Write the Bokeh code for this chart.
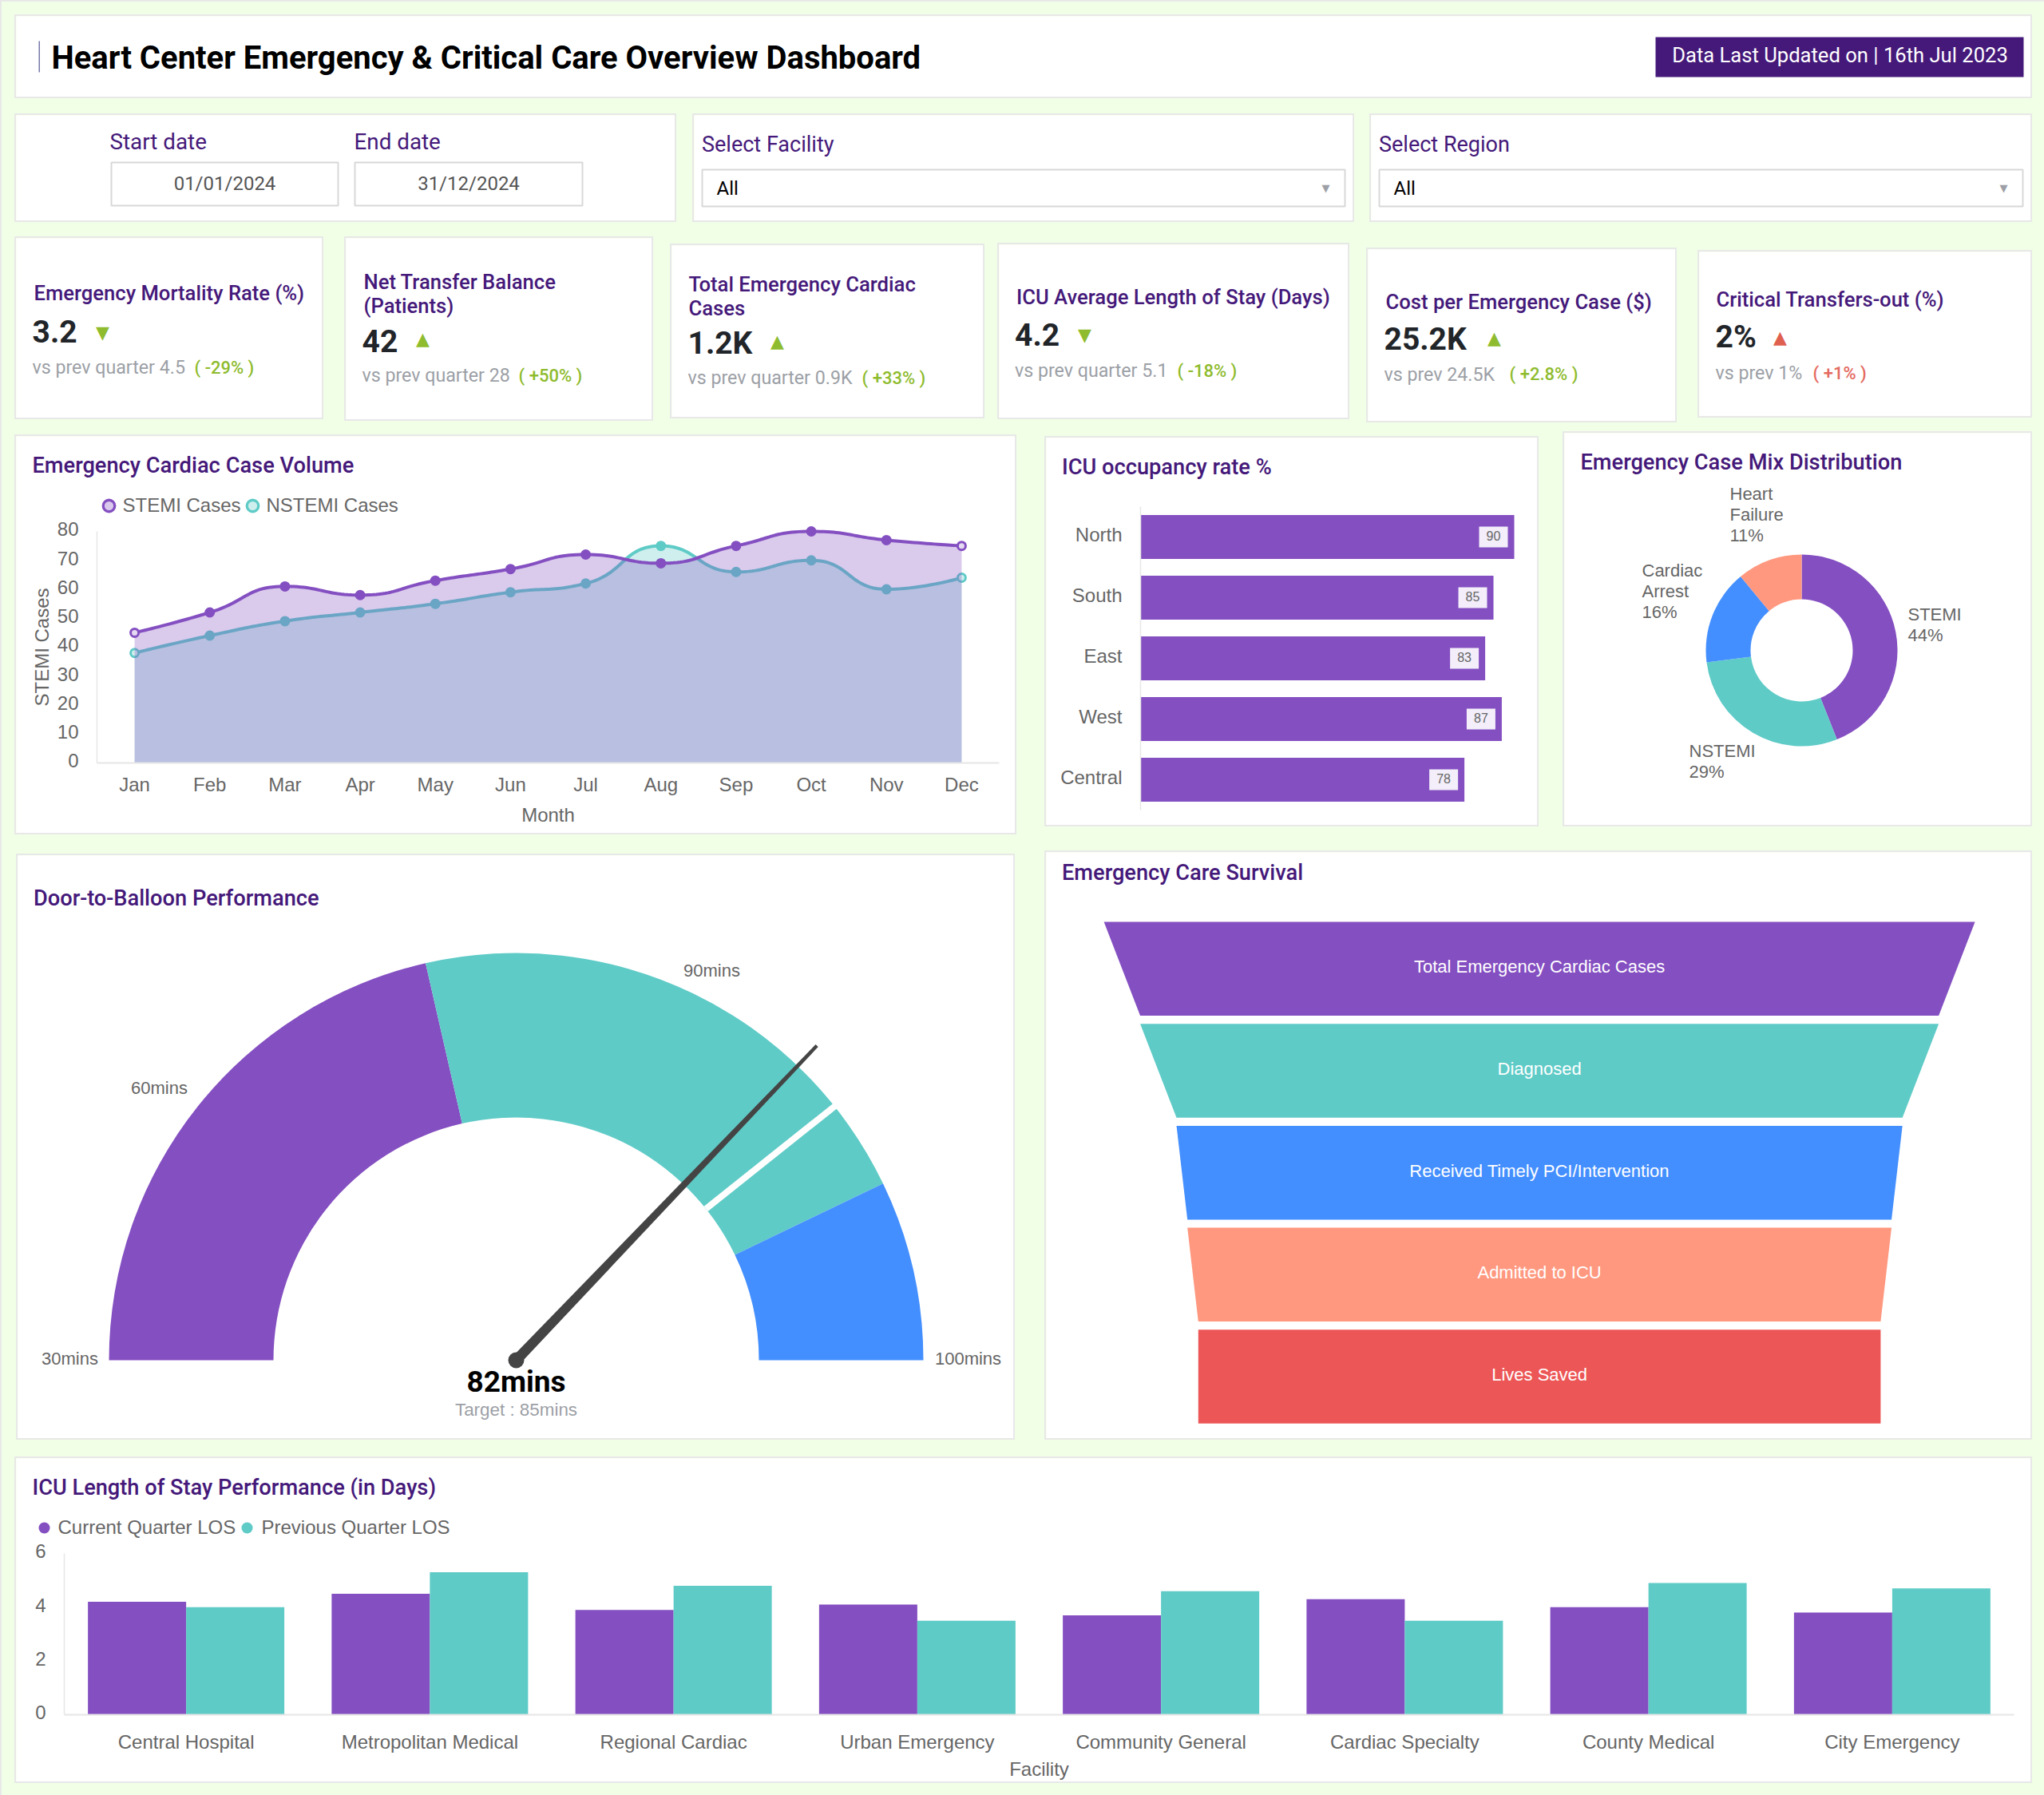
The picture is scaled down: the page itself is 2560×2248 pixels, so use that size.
import math
from bokeh.core.properties import value
from bokeh.embed import file_html
from bokeh.resources import INLINE
from bokeh.plotting import figure
from bokeh.models import (Label, BoxAnnotation, Row, Column, Range1d, FixedTicker, LinearAxis,
                          GlobalInlineStyleSheet)

# ---------- data ----------
months = ["Jan", "Feb", "Mar", "Apr", "May", "Jun", "Jul", "Aug", "Sep", "Oct", "Nov", "Dec"]
stemi = [45, 52, 61, 58, 63, 67, 72, 69, 75, 80, 77, 75]
nstemi = [38, 44, 49, 52, 55, 59, 62, 75, 66, 70, 60, 64]
regions = ["North", "South", "East", "West", "Central"]
occupancy = [90, 85, 83, 87, 78]
mix_names = [["STEMI"], ["NSTEMI"], ["Cardiac", "Arrest"], ["Heart", "Failure"]]
mix_values = [44, 29, 16, 11]
gauge_min, gauge_max = 30, 100
gauge_stops = [60, 90, 100]
gauge_value = 82
gauge_target = 85
funnel_names = ["Total Emergency Cardiac Cases", "Diagnosed", "Received Timely PCI/Intervention",
                "Admitted to ICU", "Lives Saved"]
funnel_values = [1200, 1100, 1000, 970, 940]
facilities = ["Central Hospital", "Metropolitan Medical", "Regional Cardiac", "Urban Emergency",
              "Community General", "Cardiac Specialty", "County Medical", "City Emergency"]
los_current = [4.2, 4.5, 3.9, 4.1, 3.7, 4.3, 4.0, 3.8]
los_previous = [4.0, 5.3, 4.8, 3.5, 4.6, 3.5, 4.9, 4.7]

# ---------- style ----------
PURPLE, TEAL, BLUE, SALMON, RED = "#844FC1", "#5FCBC7", "#448FFF", "#FF987F", "#EC5656"
INK = "#45197A"
GREY = "#666666"
MUTED = "#9CA0A6"
GREEN = "#8FBC2F"
ALERT = "#E0604F"
AXIS = "#E6E6E6"
ROBOTO = "Roboto"
MEDIUM = "Roboto Medium"
ARIAL = "Liberation Sans"
BW = 2


class Card:
    """A white panel whose frame fills it; one data unit maps through the given ranges."""

    def __init__(self, x0, y0, x1, y1):
        self.x0, self.y0, self.x1, self.y1 = x0 + BW, y0 + BW, x1 - BW, y1 - BW
        self.fig = figure(
            width=self.x1 - self.x0, height=self.y1 - self.y0,
            x_range=Range1d(self.x0, self.x1), y_range=Range1d(self.y1, self.y0),
            toolbar_location=None, output_backend="svg",
            x_axis_location=None, y_axis_location=None,
            min_border_left=0, min_border_right=0, min_border_top=0, min_border_bottom=0,
            frame_align=False,
            background_fill_color="white", border_fill_color="white", outline_line_color=None,
            styles={"box-shadow": f"0 0 0 {BW}px #E8E8E8"})
        self.fig.grid.visible = False

    def ranges(self, to_x, to_y):
        self.fig.x_range = Range1d(to_x(self.x0), to_x(self.x1))
        self.fig.y_range = Range1d(to_y(self.y1), to_y(self.y0))

    def text(self, x, y, s, size, color, font=ARIAL, bold=False, align="left", angle=0):
        self.fig.add_layout(Label(
            x=x - self.x0, y=self.y1 - y, x_units="screen", y_units="screen", text=s,
            text_font=font, text_font_size=f"{size}px", text_color=color,
            text_font_style="bold" if bold else "normal",
            text_align=align, text_baseline="middle", angle=angle, angle_units="deg"))

    def box(self, x0, y0, x1, y1, fill="white", line=None, lw=1):
        self.fig.add_layout(BoxAnnotation(
            left=x0 - self.x0, right=x1 - self.x0, top=self.y1 - y0, bottom=self.y1 - y1,
            left_units="screen", right_units="screen", top_units="screen", bottom_units="screen",
            fill_color=fill, fill_alpha=1, line_color=line, line_alpha=1, line_width=lw))

    def title(self, x, y, s, size=27.2):
        self.text(x, y, s, size, INK, font=MEDIUM)

    def axis(self, place, at, bounds, ticks, labels=None, standoff=20, width=1.5, shift=0):
        # shift nudges only the label placement along the axis; tick marks are not drawn
        labels = labels if labels is not None else [str(t) for t in ticks]
        moved = [round(t + shift, 4) for t in ticks]
        ax = LinearAxis(fixed_location=at, bounds=bounds, ticker=FixedTicker(ticks=moved))
        ax.axis_line_color = AXIS
        ax.axis_line_width = width
        ax.major_tick_line_color = None
        ax.minor_tick_line_color = None
        ax.major_label_text_font = ARIAL
        ax.major_label_text_font_size = "24px"
        ax.major_label_text_color = GREY
        ax.major_label_standoff = standoff
        ax.major_label_overrides = dict(zip(moved, labels))
        self.fig.add_layout(ax, place)


# ---------- header ----------
header = Card(18, 18, 2545, 123)
header.box(48, 51, 49.5, 90, fill="#7777AA")
header.text(64, 72, "Heart Center Emergency & Critical Care Overview Dashboard", 40, "#000000", font=ROBOTO, bold=True)
header.box(2073, 46, 2534, 96, fill=INK)
header.text(2304, 68, "Data Last Updated on | 16th Jul 2023", 25.6, "#FFFFFF", font=ROBOTO, align="center")

# ---------- filters ----------
dates = Card(18, 142, 847, 278)
for lx, bx0, bx1, lab, val in [(137, 139, 423, "Start date", "01/01/2024"), (443, 444, 729, "End date", "31/12/2024")]:
    dates.text(lx, 177, lab, 27.8, INK, font=ROBOTO)
    dates.box(bx0, 203, bx1, 257, line="#D8D8D8", lw=2)
    dates.text((bx0 + bx1) / 2, 229, val, 24, "#555555", font=ROBOTO, align="center")

selects = []
for x0, x1, lab in [(867, 1696, "Select Facility"), (1715, 2545, "Select Region")]:
    c = Card(x0, 142, x1, 278)
    c.text(x0 + 11.5, 180, lab, 27, INK, font=ROBOTO)
    c.box(x0 + 12, 212, x1 - 12, 258, line="#D8D8D8", lw=2)
    c.text(x0 + 30, 235, "All", 24, "#000000", font=ROBOTO)
    c.text(x1 - 36, 235, "\u25BC", 13, "#9CA0A6", font="DejaVu Sans", align="center")
    selects.append(c)

# ---------- KPI cards ----------
kpi_specs = [
    ((18, 296, 405, 525), ["Emergency Mortality Rate (%)"], [366.5], 42, "3.2", 40, 414, "\u25BC", 128, 416, GREEN,
     "vs prev quarter 4.5", 459.5, "( -29% )", 243),
    ((431, 296, 818, 527), ["Net Transfer Balance", "(Patients)"], [352, 382.5], 455, "42", 453, 426, "\u25B2", 529, 424, GREEN,
     "vs prev quarter 28", 469.5, "( +50% )", 649),
    ((839, 305, 1233, 524), ["Total Emergency Cardiac", "Cases"], [355, 385.5], 862, "1.2K", 861, 429, "\u25B2", 973, 427, GREEN,
     "vs prev quarter 0.9K", 472.5, "( +33% )", 1079),
    ((1249, 304, 1690, 525), ["ICU Average Length of Stay (Days)"], [371], 1272.5, "4.2", 1270.5, 418, "\u25BC", 1358, 419, GREEN,
     "vs prev quarter 5.1", 463.5, "( -18% )", 1474),
    ((1711, 310, 2100, 529), ["Cost per Emergency Case ($)"], [377], 1735, "25.2K", 1733, 424, "\u25B2", 1871, 423, GREEN,
     "vs prev 24.5K", 468, "( +2.8% )", 1890),
    ((2126, 313, 2545, 523), ["Critical Transfers-out (%)"], [374], 2149, "2%", 2148, 421, "\u25B2", 2229, 422, ALERT,
     "vs prev 1%", 466.5, "( +1% )", 2270),
]
kpis = []
for rect, tl, tys, tx, val, vx, vy, tri, trx, try_, col, sub, sy, delta, dx in kpi_specs:
    c = Card(*rect)
    for line, ty in zip(tl, tys):
        c.text(tx, ty, line, 25.6, INK, font=MEDIUM)
    c.text(vx, vy, val, 39, "#212529", font=ROBOTO, bold=True)
    c.text(trx, try_, tri, 22, col, font="DejaVu Sans", align="center")
    c.text(vx, sy, sub, 23.2, MUTED, font=ROBOTO)
    c.text(dx, sy, delta, 22, col if col != ALERT else "#E46A60", font=MEDIUM)
    kpis.append(c)


# ---------- line chart ----------
def smooth(values, sx, sy, samples=24, k=0.5):
    pts = [(i * sx, v * sy) for i, v in enumerate(values)]
    n = len(pts)
    cps = []
    for i in range(n):
        x, y = pts[i]
        if i == 0 or i == n - 1:
            cps.append(((x, y), (x, y)))
            continue
        px, py = pts[i - 1]
        nx, ny = pts[i + 1]
        vx, vy = nx - px, ny - py
        lp, ln = math.hypot(x - px, y - py), math.hypot(nx - x, ny - y)
        r = ln / (ln + lp)
        cx = min(max(x + vx * k * r, min(nx, x)), max(nx, x))
        cy = min(max(y + vy * k * r, min(ny, y)), max(ny, y))
        dx, dy = cx - x, cy - y
        bx = min(max(x - dx * lp / ln, min(px, x)), max(px, x))
        by = min(max(y - dy * lp / ln, min(py, y)), max(py, y))
        dx, dy = x - bx, y - by
        cps.append(((bx, by), (x + dx * ln / lp, y + dy * ln / lp)))
    xs, ys = [], []
    for i in range(n - 1):
        p0, p3 = pts[i], pts[i + 1]
        p1, p2 = cps[i][1], cps[i + 1][0]
        for j in range(samples + (i == n - 2)):
            t = j / samples
            u = 1 - t
            xs.append((u**3 * p0[0] + 3 * u * u * t * p1[0] + 3 * u * t * t * p2[0] + t**3 * p3[0]) / sx)
            ys.append((u**3 * p0[1] + 3 * u * u * t * p1[1] + 3 * u * t * t * p2[1] + t**3 * p3[1]) / sy)
    return xs, ys


LX0, LY80, LX1, LY0 = 121, 665, 1251, 955
ly_unit = (LY0 - LY80) / 80
lx_unit = (LX1 - LX0) / 12
to_lx = lambda px: (px - LX0) / lx_unit - 0.5
to_ly = lambda py: (LY0 - py) / ly_unit
line_card = Card(18, 544, 1273, 1045)
line_card.ranges(to_lx, to_ly)
lf = line_card.fig
line_card.axis("left", -0.5, (0, 80), list(range(0, 81, 10)), standoff=17, shift=2.5 / ly_unit)
line_card.axis("below", 0, (-0.5, 11.5), list(range(12)), months, standoff=7, width=2)
idx = list(range(12))


def series(values, color, light):
    xs, ys = smooth(values, lx_unit, ly_unit)
    lf.varea(x=xs, y1=[0] * len(xs), y2=ys, fill_color=color, fill_alpha=0.3)
    lf.line(xs, ys, line_color=color, line_width=4, line_join="round")
    fills = [light if i in (0, 11) else color for i in idx]
    lf.scatter(idx, values, size=10, marker="circle", fill_color=fills, line_color=color, line_width=3)


series(nstemi, TEAL, "#CFEFEE")
series(stemi, PURPLE, "#E6DAF2")
lf.scatter([to_lx(136)], [to_ly(633)], size=14.5, marker="circle", fill_color="#DAC9EC", line_color=PURPLE, line_width=3.3)
lf.scatter([to_lx(316)], [to_ly(633)], size=14.5, marker="circle", fill_color="#CFEFEE", line_color=TEAL, line_width=3.3)
line_card.title(40, 582, "Emergency Cardiac Case Volume")
line_card.text(153, 632, "STEMI Cases", 24, GREY)
line_card.text(333, 632, "NSTEMI Cases", 24, GREY)
line_card.text(686, 1020, "Month", 24, GREY, align="center")
line_card.text(52, 810, "STEMI Cases", 24, GREY, align="center", angle=90)

# ---------- ICU occupancy ----------
BX0, BY0, B_STEP = 1428, 634, 76
bx_unit = 5.2
to_bx = lambda px: (px - BX0) / bx_unit
to_by = lambda py: (py - BY0) / B_STEP - 0.5
icu_card = Card(1308, 546, 1927, 1035)
icu_card.ranges(to_bx, to_by)
bf = icu_card.fig
icu_card.axis("left", 0, (-0.5, 4.5), list(range(5)), regions, standoff=17, shift=-2.5 / B_STEP)
rpos = list(range(len(regions)))
bf.hbar(y=rpos, left=0, right=occupancy, height=55 / B_STEP, fill_color=PURPLE, line_color=None)
tag_x = [v - 26 / bx_unit for v in occupancy]
bf.rect(x=tag_x, y=rpos, width=36 / bx_unit, height=26 / B_STEP, fill_color="white", fill_alpha=0.9, line_color=None)
bf.text(x=tag_x, y=rpos, text=[str(v) for v in occupancy], text_font=value(ARIAL), text_font_size="16px",
        text_color=GREY, text_align="center", text_baseline="middle", y_offset=-2)
icu_card.title(1329.5, 584, "ICU occupancy rate %")

# ---------- donut ----------
DCX, DCY = 2256, 814
dc = Card(1957, 540, 2545, 1035)
dc.ranges(lambda px: px - DCX, lambda py: DCY - py)
total = sum(mix_values)
cum = 0
for v, col in zip(mix_values, [PURPLE, TEAL, BLUE, SALMON]):
    a0 = math.pi / 2 - cum / total * 2 * math.pi
    cum += v
    a1 = math.pi / 2 - cum / total * 2 * math.pi
    dc.fig.annular_wedge(x=0, y=0, inner_radius=64, outer_radius=120, start_angle=a0, end_angle=a1,
                         direction="clock", fill_color=col, line_color=None)
dc.title(1979, 578, "Emergency Case Mix Distribution")
for names, v, lx, ly in zip(mix_names, mix_values, [2389, 2115, 2056, 2166], [768.5, 939.5, 713.5, 617.5]):
    for j, t in enumerate(names + [f"{v}%"]):
        dc.text(lx, ly + j * 26, t, 22, GREY)

# ---------- gauge ----------
GCX, GCY = 646, 1703
RO, RI = 510, 304
gc = Card(20, 1069, 1271, 1803)
gc.ranges(lambda px: px - GCX, lambda py: GCY - py)
ang = lambda m: math.pi * (1 - (m - gauge_min) / (gauge_max - gauge_min))
prev = gauge_min
for stop, col in zip(gauge_stops, [PURPLE, TEAL, BLUE]):
    gc.fig.annular_wedge(x=0, y=0, inner_radius=RI, outer_radius=RO, start_angle=ang(prev), end_angle=ang(stop),
                         direction="clock", fill_color=col, line_color=None)
    prev = stop
at = ang(gauge_target)
gc.fig.segment(x0=[RI * math.cos(at)], y0=[RI * math.sin(at)], x1=[(RO + 2) * math.cos(at)], y1=[(RO + 2) * math.sin(at)],
               line_color="white", line_width=8)
av = ang(gauge_value)
ca, sa = math.cos(av), math.sin(av)
NL, HB, HT = 545, 6.5, 2.2
gc.fig.patch([-HB * sa, HB * sa, NL * ca + HT * sa, NL * ca - HT * sa],
             [HB * ca, -HB * ca, NL * sa - HT * ca, NL * sa + HT * ca], fill_color="#444444", line_color=None)
gc.fig.scatter([0], [0], size=20, marker="circle", fill_color="#444444", line_color=None)
gc.title(41.5, 1124, "Door-to-Balloon Performance")
gc.text(87, 1701, "30mins", 22, GREY, align="center")
gc.text(199, 1362, "60mins", 22, GREY, align="center")
gc.text(891, 1215, "90mins", 22, GREY, align="center")
gc.text(1212, 1701, "100mins", 22, GREY, align="center")
gc.text(646, 1730, f"{gauge_value}mins", 37, "#000000", font=ROBOTO, bold=True, align="center")
gc.text(646, 1765, f"Target : {gauge_target}mins", 22.4, MUTED, align="center")

# ---------- funnel ----------
FCX, FTOP, FSTEP = 1927.6, 1154, 127.7
F_K = 1091 / max(funnel_values)
fc = Card(1308, 1065, 2545, 1803)
fc.ranges(lambda px: (px - FCX) / F_K, lambda py: (py - FTOP) / FSTEP)
fh = 117.5 / FSTEP
for i, (v, col) in enumerate(zip(funnel_values, [PURPLE, TEAL, BLUE, SALMON, RED])):
    nxt = funnel_values[i + 1] if i + 1 < len(funnel_values) else v
    fc.fig.patch([-v / 2, v / 2, nxt / 2, -nxt / 2], [i, i, i + fh, i + fh], fill_color=col, line_color=None)
fc.fig.text(x=[0] * 5, y=[i + fh / 2 for i in range(5)], text=funnel_names, text_font=value(ARIAL), text_font_size="22px",
            text_color="white", text_align="center", text_baseline="middle", y_offset=-2.5)
fc.title(1329.5, 1092, "Emergency Care Survival")

# ---------- grouped bars ----------
CX0, CX1, CY6, CY0 = 80, 2522, 1945, 2147
cy_unit = (CY0 - CY6) / 6
cx_unit = (CX1 - CX0) / 8
to_cx = lambda px: (px - CX0) / cx_unit - 0.5
to_cy = lambda py: (CY0 - py) / cy_unit
los_card = Card(18, 1824, 2545, 2233)
los_card.ranges(to_cx, to_cy)
cf = los_card.fig
los_card.axis("left", -0.5, (0, 6), [0, 2, 4, 6], standoff=17, shift=2.5 / cy_unit)
los_card.axis("below", 0, (-0.5, 7.5), list(range(8)), facilities, standoff=14, width=2)
bw = 123 / cx_unit
cf.vbar(x=[i - bw / 2 for i in range(8)], top=los_current, width=bw, fill_color=PURPLE, line_color=None)
cf.vbar(x=[i + bw / 2 for i in range(8)], top=los_previous, width=bw, fill_color=TEAL, line_color=None)
cf.scatter([to_cx(55)], [to_cy(1913)], size=14, marker="circle", fill_color=PURPLE, line_color=None)
cf.scatter([to_cx(309)], [to_cy(1913)], size=14, marker="circle", fill_color=TEAL, line_color=None)
los_card.title(40, 1862, "ICU Length of Stay Performance (in Days)")
los_card.text(72, 1912, "Current Quarter LOS", 24, GREY)
los_card.text(327, 1912, "Previous Quarter LOS", 24, GREY)
los_card.text(1301, 2215, "Facility", 24, GREY, align="center")

# ---------- page layout ----------
rows_spec = [[header], [dates] + selects, kpis, [line_card, icu_card, dc], [gc, fc], [los_card]]
rows = []
prev_bottom = 0
for cards in rows_spec:
    base = min(c.y0 for c in cards)
    cursor = 0
    for c in cards:
        c.fig.margin = (c.y0 - base, 0, 0, c.x0 - cursor)
        cursor = c.x1
    rows.append(Row(children=[c.fig for c in cards], margin=(base - prev_bottom, 0, 0, 0), align="start"))
    prev_bottom = max(c.y1 for c in cards)

sheet = GlobalInlineStyleSheet(css="html,body{margin:0;padding:0;height:2248px;background:#F0FFE6;}"
                                   "body{box-shadow:inset 2px 2px 0 #E8E8E8;overflow:hidden;}")
root = Column(children=rows, stylesheets=[sheet], margin=(0, 0, 0, 0))
open("out.html", "w", encoding="utf-8").write(file_html(root, INLINE))
